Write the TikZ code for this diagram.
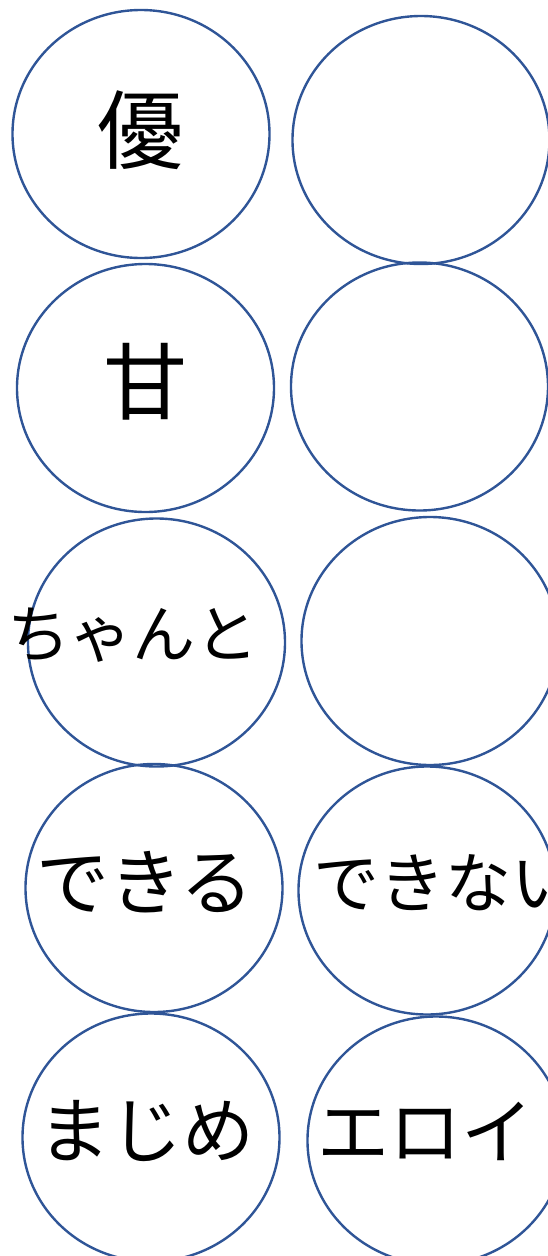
\documentclass[tikz,border=0pt]{standalone}
\usepackage{fontspec}
\newfontfamily\jp{Noto Sans CJK JP}
\usetikzlibrary{shapes.geometric}
\definecolor{ringblue}{HTML}{2F5597}
\tikzset{
  ring/.style={ellipse, draw=ringblue, line width=2.4pt, inner sep=0pt,
    minimum width=257pt, minimum height=248pt},
  word/.style={inner sep=0pt, anchor=base, text=black},
}
\begin{document}
\begin{tikzpicture}[x=1pt,y=-1pt]
\useasboundingbox (0,0) rectangle (548,1256);
% circles
\node[ring] (c11) at (141,134) {};
\node[ring] (c12) at (421,140) {};
\node[ring] (c21) at (145.5,388) {};
\node[ring] (c22) at (419.5,386.5) {};
\node[ring] (c31) at (156.5,642.5) {};
\node[ring] (c32) at (430,641) {};
\node[ring] (c41) at (154,888) {};
\node[ring] (c42) at (427,890.5) {};
\node[ring] (c51) at (151,1137.5) {};
\node[ring] (c52) at (436,1140.5) {};
% texts
\node[word, font=\jp\fontsize{86}{86}\selectfont] (t11) at (140,162) {優};
\node[word, font=\jp\fontsize{84}{84}\selectfont] (t21) at (145,413) {甘};
\node[word, font=\jp\fontsize{63}{63}\selectfont] (t31) at (133,657) {ちゃんと};
\node[word, font=\jp\fontsize{73}{73}\selectfont] (t41) at (145,909) {できる};
\node[word, font=\jp\fontsize{66}{66}\selectfont] (t42) at (445,907) {できない};
\node[word, font=\jp\fontsize{72}{72}\selectfont] (t51) at (146,1157) {まじめ};
\node[word, font=\jp\fontsize{72}{72}\selectfont] (t52) at (425,1158) {エロイ};
\end{tikzpicture}
\end{document}
